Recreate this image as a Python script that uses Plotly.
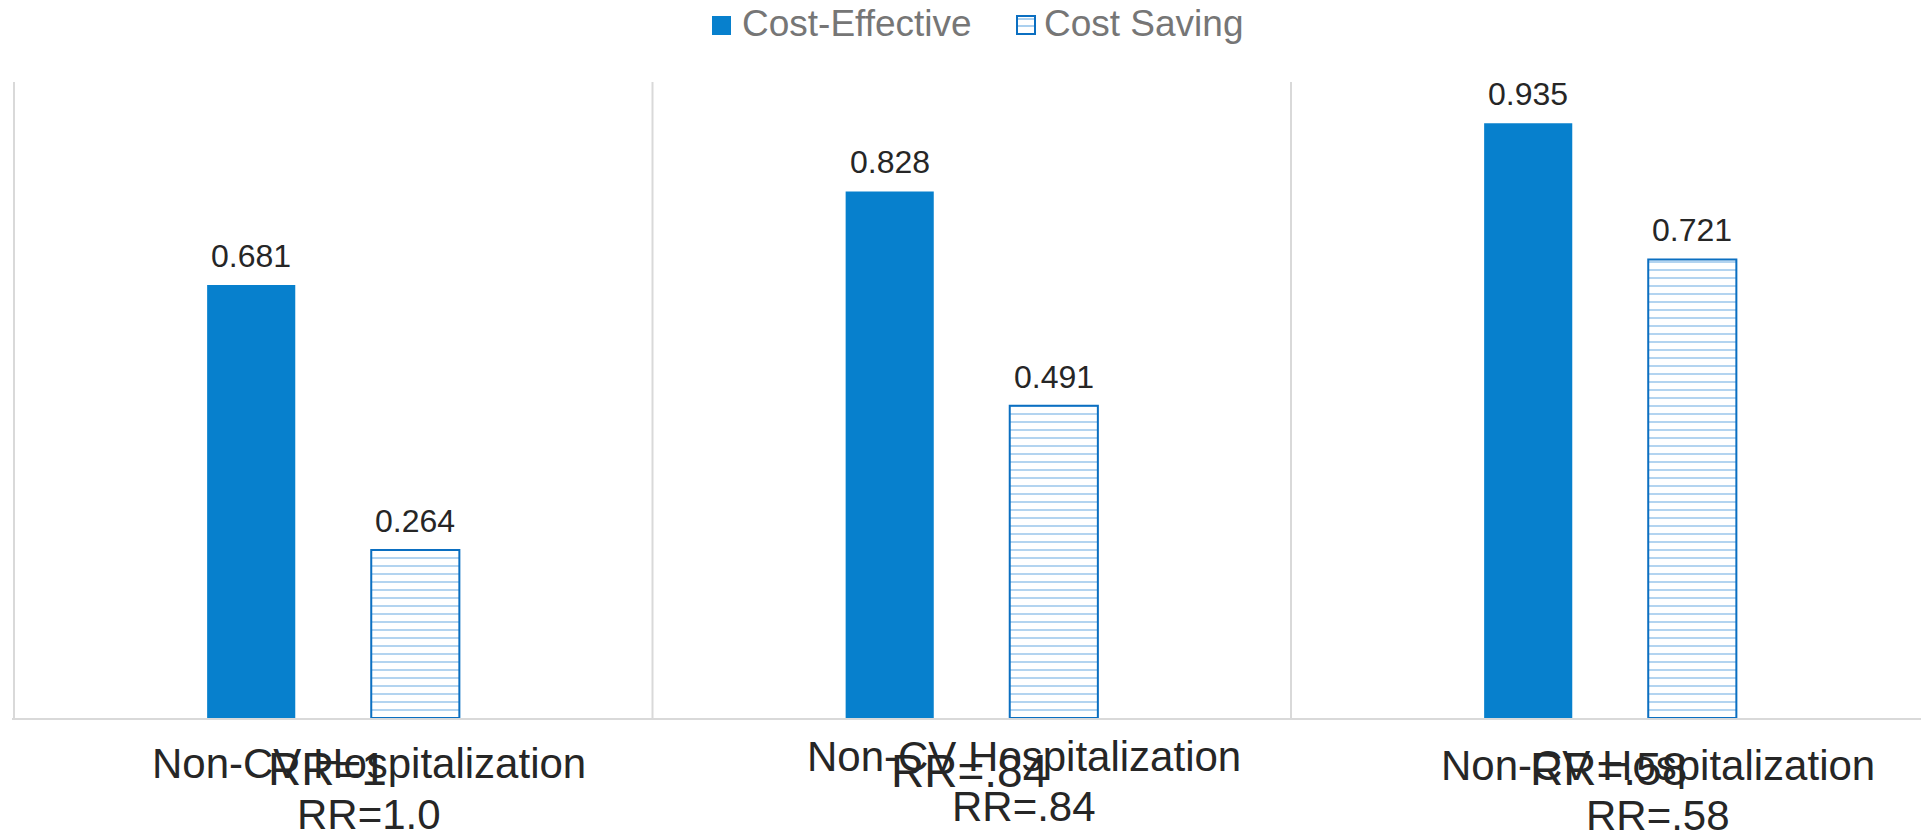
import plotly.graph_objects as go

# Data
outcome = "Non-CV Hospitalization"
rr_inline = ["RR=1", "RR=.84", "RR=.58"]
rr_labels = ["RR=1.0", "RR=.84", "RR=.58"]
series_names = ["Cost-Effective", "Cost Saving"]
cost_effective = [0.681, 0.828, 0.935]
cost_saving = [0.264, 0.491, 0.721]

# Styles
BLUE = "#0780cd"
EDGE = "#0b6fc1"
STRIPE = "#8fc0ea"
GRID = "#d9d9d9"
TEXT = "#262626"
LEGEND_TEXT = "#767676"
FONT = "Arial, Liberation Sans, sans-serif"

W, H = 1921, 835
M_L, M_R, M_T, M_B = 12, 0, 82, 117
CAT_PX = 638.5                      # width of one category band in pixels
plot_w = W - M_L - M_R
x_lo = -0.5 - 2 / CAT_PX
x_hi = x_lo + plot_w / CAT_PX

BAR_OFFSET = 0.1285                 # half distance between paired bars
idx = list(range(len(rr_labels)))

# label placement (pixel shifts below the baseline)
outcome_dx = [36, 52, 48]
outcome_dy = [-45, -38, -47]
inline_dx = [-6, -2, -2]
inline_dy = [-51, -53, -51]
rr_dx = [36, 52, 48]
rr_dy = [-96, -88, -97]

fig = go.Figure()
fig.add_bar(
    x=idx, y=cost_effective, name=series_names[0], showlegend=False,
    marker=dict(color=BLUE, line=dict(width=0)),
)
fig.add_bar(
    x=idx, y=cost_saving, name=series_names[1], showlegend=False,
    marker=dict(
        color="white",
        line=dict(color=EDGE, width=2),
        pattern=dict(shape="-", fgcolor=STRIPE, bgcolor="white",
                     size=8, solidity=0.17, fillmode="replace"),
    ),
)

annotations = []
# value labels above each bar
for sign, vals in ((-1, cost_effective), (1, cost_saving)):
    for i, v in zip(idx, vals):
        annotations.append(dict(
            x=i + sign * BAR_OFFSET, y=v, xref="x", yref="y",
            text=f"{v:.3f}", showarrow=False, yanchor="middle",
            yshift=29, font=dict(family=FONT, size=32, color=TEXT),
        ))

# category labels
for i in idx:
    annotations.append(dict(
        x=i, y=0, xref="x", yref="paper", text=outcome, showarrow=False,
        xshift=outcome_dx[i], yshift=outcome_dy[i], yanchor="middle",
        font=dict(family=FONT, size=42, color=TEXT),
    ))
    annotations.append(dict(
        x=i, y=0, xref="x", yref="paper", text=rr_inline[i], showarrow=False,
        xshift=inline_dx[i], yshift=inline_dy[i], yanchor="middle",
        font=dict(family=FONT, size=46, color=TEXT),
    ))
    annotations.append(dict(
        x=i, y=0, xref="x", yref="paper", text=rr_labels[i], showarrow=False,
        xshift=rr_dx[i], yshift=rr_dy[i], yanchor="middle",
        font=dict(family=FONT, size=42, color=TEXT),
    ))

# legend texts
for name, dx in zip(series_names, (728, 1030)):
    annotations.append(dict(
        x=0, y=1, xref="paper", yref="paper", text=name, showarrow=False,
        xanchor="left", yanchor="middle", xshift=dx, yshift=59,
        font=dict(family=FONT, size=37, color=LEGEND_TEXT),
    ))

shapes = []
# category separators
for i in idx:
    shapes.append(dict(
        type="line", xref="x", yref="paper", x0=i - 0.5, x1=i - 0.5,
        y0=0, y1=1, line=dict(color=GRID, width=2), layer="below",
    ))

# legend swatches
def swatch(x0, x1, y0, y1, **kw):
    return dict(type="rect", xref="paper", yref="paper",
                xsizemode="pixel", ysizemode="pixel",
                xanchor=0, yanchor=1, x0=x0, x1=x1, y0=y0, y1=y1, **kw)

shapes.append(swatch(700, 719, 47, 66, fillcolor=BLUE, line=dict(width=0)))
shapes.append(swatch(1005, 1023, 48, 66, fillcolor="white",
                     line=dict(color=EDGE, width=2)))
for yy in (56, 63):
    shapes.append(dict(type="line", xref="paper", yref="paper",
                       xsizemode="pixel", ysizemode="pixel", xanchor=0, yanchor=1,
                       x0=1006, x1=1022, y0=yy, y1=yy,
                       line=dict(color=STRIPE, width=1.5)))

fig.update_layout(
    width=W, height=H,
    margin=dict(l=M_L, r=M_R, t=M_T, b=M_B, pad=0),
    paper_bgcolor="white", plot_bgcolor="white",
    barmode="group", bargap=0.486, bargroupgap=0.463,
    showlegend=False,
    xaxis=dict(range=[x_lo, x_hi], showticklabels=False, ticks="",
               showgrid=False, zeroline=False, showline=True,
               linecolor=GRID, linewidth=2, fixedrange=True),
    yaxis=dict(range=[0, 1], visible=False, fixedrange=True),
    annotations=annotations,
    shapes=shapes,
)

fig.write_html("out.html")
